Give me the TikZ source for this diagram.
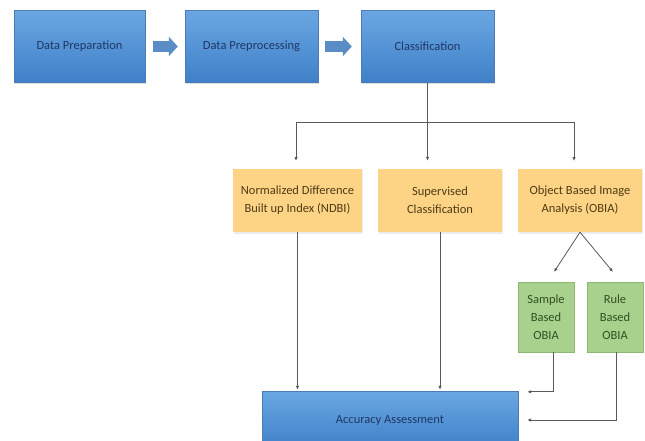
\documentclass[tikz,border=0pt]{standalone}
\usepackage{fontspec}
\setmainfont{Carlito}
\usetikzlibrary{arrows.meta,shadows,calc}
\definecolor{bluetop}{HTML}{6AA7E2}
\definecolor{bluebot}{HTML}{3F80C8}
\definecolor{blueedge}{HTML}{4A7DB8}
\definecolor{bluetext}{HTML}{1F3864}
\definecolor{orangefill}{HTML}{FDD486}
\definecolor{orangetext}{HTML}{4D3B14}
\definecolor{greenfill}{HTML}{A9D18E}
\definecolor{greenedge}{HTML}{8DB873}
\definecolor{greentext}{HTML}{2E5120}
\definecolor{arrowblue}{HTML}{5A8DC6}
\definecolor{linegray}{HTML}{5A5A5A}
\tikzset{
  txt/.style={font=\fontsize{12.5}{18}\selectfont, align=center},
  bluebox/.style={txt, rectangle, top color=bluetop, bottom color=bluebot,
    draw=blueedge, line width=0.4pt, text=bluetext, inner sep=0pt,
    drop shadow={shadow xshift=1pt, shadow yshift=-1.5pt, opacity=0.25}},
  orangebox/.style={txt, rectangle, fill=orangefill, text=orangetext, inner sep=0pt,
    drop shadow={shadow xshift=1pt, shadow yshift=-1.5pt, opacity=0.15}},
  greenbox/.style={txt, rectangle, fill=greenfill, draw=greenedge, line width=0.5pt,
    text=greentext, inner sep=0pt},
  blockarrow/.style={draw=arrowblue, line width=11pt,
    -{Triangle[length=9pt,width=19pt]}},
  conn/.style={draw=linegray, line width=0.8pt, -{Latex[length=4pt,width=3.5pt]}},
  plain/.style={draw=linegray, line width=0.8pt},
}
\begin{document}
\begin{tikzpicture}[x=1pt,y=-1pt]
\useasboundingbox (0,0) rectangle (645,441);
\fill[white] (0,0) rectangle (645,441);

% top row
\node[bluebox, minimum width=131pt, minimum height=72pt] (prep) at (79.5,46.5) {Data Preparation};
\node[bluebox, minimum width=133pt, minimum height=72pt] (proc) at (251.5,46.5) {Data Preprocessing};
\node[bluebox, minimum width=133pt, minimum height=72pt] (cls) at (427.5,46.5) {Classification};

\draw[blockarrow] ([xshift=8pt]prep.east) -- ([xshift=-7pt]proc.west);
\draw[blockarrow] ([xshift=7pt]proc.east) -- ([xshift=-9pt]cls.west);

% middle row
\node[orangebox, minimum width=129pt, minimum height=63pt] (ndbi) at (297.5,200.5) {Normalized Difference\\Built up Index (NDBI)};
\node[orangebox, minimum width=124pt, minimum height=63pt] (sup) at (440,200.5) {Supervised\\Classification};
\node[orangebox, minimum width=124pt, minimum height=63pt] (obia) at (580,200.5) {Object Based Image\\Analysis (OBIA)};

% green boxes
\node[greenbox, minimum width=56pt, minimum height=70pt] (samp) at (546,317) {Sample\\Based\\OBIA};
\node[greenbox, minimum width=56pt, minimum height=70pt] (rule) at (615,317) {Rule\\Based\\OBIA};

% accuracy
\node[bluebox, minimum width=256pt, minimum height=58pt] (acc) at (390,420) {Accuracy Assessment};

% tree from classification
\coordinate (j) at (cls.south |- 0,122);
\draw[plain] (cls.south) -- (j);
\draw[plain] (296,122) -- (574,122);
\draw[conn, shorten >=8pt] (296,122) -- (296,169);
\draw[conn, shorten >=8pt] (j) -- (j |- sup.north);
\draw[conn, shorten >=8pt] (574,122) -- (574,169);

% to accuracy
\draw[conn, shorten >=1pt] (ndbi.south) -- (ndbi.south |- acc.north);
\draw[conn, shorten >=1pt] (sup.south) -- (sup.south |- acc.north);

% obia split
\coordinate (sa) at (554,272);
\coordinate (ra) at (613,272);
\draw[conn] (obia.south) -- (sa);
\draw[conn] (obia.south) -- (ra);

% green to accuracy
\coordinate (a1) at ([xshift=9pt,yshift=-1pt]acc.north east);
\coordinate (a2) at ([xshift=9pt]acc.east);
\draw[conn] (553,352) |- (a1);
\draw[conn] (616,352) |- (a2);
\end{tikzpicture}
\end{document}
